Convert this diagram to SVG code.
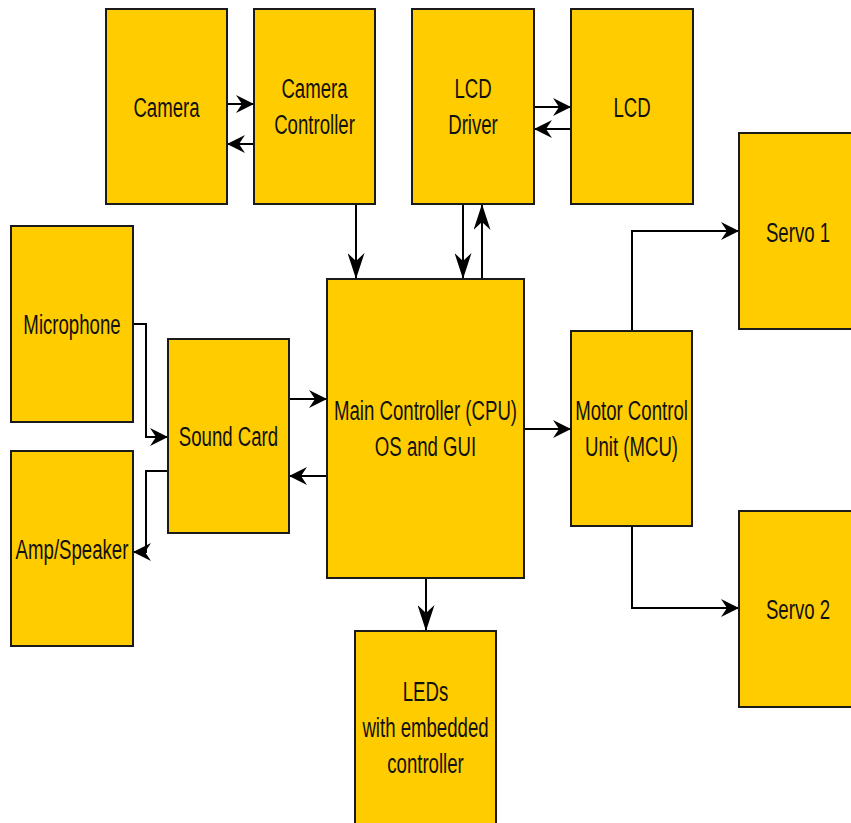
<svg xmlns="http://www.w3.org/2000/svg" width="851" height="823" viewBox="0 0 851 823">
<defs>
<style>
.box{fill:#FFCC00;stroke:#1a1a1a;stroke-width:2}
.t{font-family:"Liberation Sans",Arial,sans-serif;font-size:28px;text-anchor:middle;fill:#111}
.c{fill:none;stroke:#000;stroke-width:2}
.h{marker-end:url(#ah)}
.v{marker-end:url(#av)}
</style>
<marker id="ah" viewBox="0 0 18 18" refX="18" refY="9" markerWidth="18" markerHeight="18" markerUnits="userSpaceOnUse" orient="auto">
<path d="M18,9 L0,0 L6,9 L0,18 Z" fill="#000"/>
</marker>
<marker id="av" viewBox="0 0 26 17" refX="26" refY="8.5" markerWidth="26" markerHeight="17" markerUnits="userSpaceOnUse" orient="auto">
<path d="M26,8.5 L0,0 L8,8.5 L0,17 Z" fill="#000"/>
</marker>
</defs>
<rect width="851" height="823" fill="#fff"/>
<g id="connectors">
<path class="c h" d="M227,104 H254"/>
<path class="c h" d="M254,144 H227"/>
<path class="c h" d="M534,107 H571"/>
<path class="c h" d="M571,129 H534"/>
<path class="c v" d="M356,204 V279"/>
<path class="c v" d="M463,204 V279"/>
<path class="c v" d="M482,279 V204"/>
<path class="c h" d="M133,324 H146 V437 H168"/>
<path class="c h" d="M168,471 H146 V552 H133"/>
<path class="c h" d="M289,399 H327"/>
<path class="c h" d="M327,476 H289"/>
<path class="c h" d="M524,429 H571"/>
<path class="c h" d="M632,331 V231 H739"/>
<path class="c h" d="M632,526 V608 H739"/>
<path class="c v" d="M426,578 V631"/>
</g>
<g id="camera"><rect class="box" x="106" y="9" width="121" height="195"/><text class="t" transform="translate(166.5 0) scale(0.665 1)" x="0" y="117">Camera</text></g>
<g id="camera-controller"><rect class="box" x="254" y="9" width="121" height="195"/><text class="t" transform="translate(314.5 0) scale(0.665 1)"><tspan x="0" y="98">Camera</tspan><tspan x="0" y="134">Controller</tspan></text></g>
<g id="lcd-driver"><rect class="box" x="412" y="9" width="122" height="195"/><text class="t" transform="translate(473 0) scale(0.665 1)"><tspan x="0" y="98">LCD</tspan><tspan x="0" y="134">Driver</tspan></text></g>
<g id="lcd"><rect class="box" x="571" y="9" width="122" height="195"/><text class="t" transform="translate(632 0) scale(0.665 1)" x="0" y="117">LCD</text></g>
<g id="microphone"><rect class="box" x="11" y="226" width="122" height="196"/><text class="t" transform="translate(72 0) scale(0.665 1)" x="0" y="334">Microphone</text></g>
<g id="amp-speaker"><rect class="box" x="11" y="451" width="122" height="195"/><text class="t" transform="translate(72 0) scale(0.665 1)" x="0" y="559">Amp/Speaker</text></g>
<g id="sound-card"><rect class="box" x="168" y="339" width="121" height="194"/><text class="t" transform="translate(228.5 0) scale(0.665 1)" x="0" y="446">Sound Card</text></g>
<g id="main-controller"><rect class="box" x="327" y="279" width="197" height="299"/><text class="t" transform="translate(425.5 0) scale(0.665 1)"><tspan x="0" y="420">Main Controller (CPU)</tspan><tspan x="0" y="456">OS and GUI</tspan></text></g>
<g id="mcu"><rect class="box" x="571" y="331" width="121" height="195"/><text class="t" transform="translate(631.5 0) scale(0.665 1)"><tspan x="0" y="420">Motor Control</tspan><tspan x="0" y="456">Unit (MCU)</tspan></text></g>
<g id="servo1"><rect class="box" x="739" y="133" width="118" height="196"/><text class="t" transform="translate(798 0) scale(0.665 1)" x="0" y="242">Servo 1</text></g>
<g id="servo2"><rect class="box" x="739" y="511" width="118" height="196"/><text class="t" transform="translate(798 0) scale(0.665 1)" x="0" y="619">Servo 2</text></g>
<g id="leds"><rect class="box" x="355" y="631" width="141" height="200"/><text class="t" transform="translate(425.5 0) scale(0.665 1)"><tspan x="0" y="701">LEDs</tspan><tspan x="0" y="737">with embedded</tspan><tspan x="0" y="773">controller</tspan></text></g>
</svg>
